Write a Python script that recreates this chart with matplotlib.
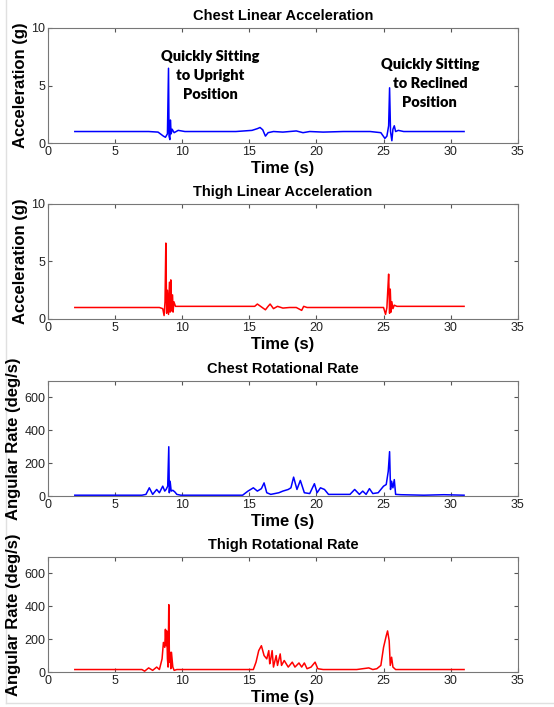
import matplotlib
matplotlib.use('Agg')
import matplotlib.pyplot as plt
from matplotlib.lines import Line2D

plt.rcParams['font.family'] = ['Liberation Sans', 'DejaVu Sans']

# chest linear acceleration (g)
chest_acc_t = [2.0, 4.0, 6.0, 7.5, 8.2, 8.6, 8.75, 8.9, 8.98, 9.02, 9.08, 9.12, 9.18, 9.25,
               9.4, 9.7, 10.2, 12.0, 14.0, 15.2, 15.6, 15.8, 16.0, 16.2, 16.4, 16.8,
               17.5, 18.5, 19.0, 19.5, 20.5, 22.0, 24.0, 24.8, 25.1, 25.25, 25.38, 25.45,
               25.52, 25.62, 25.7, 25.8, 25.9, 26.1, 26.5, 28.0, 30.0, 31.0]
chest_acc = [1.0, 1.0, 1.0, 1.0, 0.95, 0.6, 0.5, 0.8, 6.5, 0.6, 0.3, 2.0, 0.8, 1.2,
             0.9, 1.1, 1.0, 1.0, 1.0, 1.1, 1.25, 1.35, 1.15, 0.6, 0.9, 1.0,
             0.95, 1.05, 0.9, 1.0, 0.95, 1.0, 1.0, 0.9, 0.4, 0.6, 1.5, 4.8,
             1.0, 0.2, 1.2, 1.5, 1.0, 1.1, 1.0, 1.0, 1.0, 1.0]

# thigh linear acceleration (g)
thigh_acc_t = [2.0, 5.0, 8.3, 8.55, 8.65, 8.72, 8.78, 8.84, 8.9, 8.98, 9.05, 9.1, 9.15,
               9.2, 9.28, 9.32, 9.38, 9.5, 12.0, 15.4, 15.6, 15.9, 16.2, 16.4, 16.55,
               16.8, 17.1, 17.5, 18.0, 18.5, 18.9, 19.05, 19.3, 20.0, 23.0, 25.0, 25.15,
               25.25, 25.32, 25.38, 25.45, 25.5, 25.56, 25.62, 25.7, 25.8, 26.0, 28.0, 31.0]
thigh_acc = [1.0, 1.0, 1.0, 0.9, 0.3, 1.5, 6.6, 0.5, 2.5, 0.4, 3.2, 0.6, 3.4,
             0.7, 2.1, 0.6, 1.5, 1.1, 1.1, 1.1, 1.3, 1.05, 0.8, 1.1, 1.3,
             0.9, 1.1, 0.95, 1.0, 1.0, 0.75, 1.1, 1.0, 1.0, 1.0, 1.0, 0.4,
             1.0, 2.6, 3.9, 0.5, 2.6, 0.6, 1.5, 0.9, 1.2, 1.1, 1.1, 1.1]

# chest rotational rate (deg/s)
chest_rot_t = [2.0, 5.0, 7.0, 7.3, 7.55, 7.8, 8.1, 8.3, 8.55, 8.7, 8.8, 8.92, 9.0, 9.04,
               9.1, 9.18, 9.3, 9.45, 9.6, 9.9, 12.0, 14.5, 14.9, 15.3, 15.6, 15.9, 16.1,
               16.3, 16.6, 16.9, 17.2, 17.5, 17.9, 18.1, 18.3, 18.55, 18.8, 19.1, 19.5,
               19.85, 20.05, 20.3, 20.6, 20.9, 22.0, 22.5, 22.85, 23.2, 23.45, 23.7,
               23.95, 24.2, 24.6, 25.0, 25.2, 25.35, 25.45, 25.52, 25.6, 25.7, 25.8,
               25.9, 26.3, 28.0, 29.5, 31.0]
chest_rot = [5, 5, 5, 10, 50, 10, 40, 20, 60, 30, 40, 60, 300, 20,
             90, 30, 35, 25, 10, 5, 5, 5, 30, 50, 30, 45, 80,
             20, 10, 15, 20, 30, 40, 50, 115, 40, 95, 20, 15,
             75, 20, 50, 40, 10, 10, 10, 40, 10, 30, 10,
             45, 15, 20, 60, 70, 150, 270, 40, 90, 50, 100,
             10, 8, 5, 8, 5]

# thigh rotational rate (deg/s)
thigh_rot_t = [2.0, 5.0, 7.0, 7.2, 7.5, 7.8, 8.1, 8.3, 8.5, 8.6, 8.7, 8.75, 8.8, 8.85,
               8.9, 8.95, 9.0, 9.05, 9.1, 9.15, 9.2, 9.3, 9.4, 9.6, 12.0, 15.3, 15.5,
               15.7, 15.9, 16.1, 16.3, 16.45, 16.52, 16.6, 16.7, 16.8, 17.0, 17.1, 17.3,
               17.4, 17.6, 17.9, 18.2, 18.4, 18.7, 18.9, 19.1, 19.3, 19.6, 19.9, 20.1,
               20.5, 21.0, 23.0, 23.9, 24.2, 24.5, 24.8, 25.0, 25.2, 25.3, 25.42, 25.5,
               25.6, 25.7, 25.9, 27.0, 29.0, 31.0]
thigh_rot = [15, 15, 15, 5, 25, 10, 30, 15, 80, 180, 150, 260, 160, 250,
             80, 30, 410, 60, 120, 20, 120, 30, 10, 15, 15, 15, 60,
             130, 160, 100, 80, 130, 50, 80, 130, 30, 100, 40, 110,
             40, 70, 30, 60, 30, 55, 30, 55, 20, 30, 60, 20,
             15, 15, 15, 25, 15, 20, 40, 150, 220, 250, 190, 40,
             90, 30, 15, 15, 15, 15]

panels = [
    (chest_acc_t, chest_acc, 'blue', 'Chest Linear Acceleration', 'Acceleration (g)', (0, 10), [0, 5, 10]),
    (thigh_acc_t, thigh_acc, 'red', 'Thigh Linear Acceleration', 'Acceleration (g)', (0, 10), [0, 5, 10]),
    (chest_rot_t, chest_rot, 'blue', 'Chest Rotational Rate', 'Angular Rate (deg/s)', (0, 700), [0, 200, 400, 600]),
    (thigh_rot_t, thigh_rot, 'red', 'Thigh Rotational Rate', 'Angular Rate (deg/s)', (0, 700), [0, 200, 400, 600]),
]

fig = plt.figure(figsize=(5.54, 7.07), dpi=100)

# thin frame edge seen on the left and bottom of the original image (behind everything)
fig.add_artist(Line2D([6 / 554, 6 / 554], [4 / 707, 1], transform=fig.transFigure,
                      color='#e0e0e0', lw=1, zorder=-5))
fig.add_artist(Line2D([6 / 554, 1], [4 / 707, 4 / 707], transform=fig.transFigure,
                      color='#e0e0e0', lw=1, zorder=-5))

bottoms = [0.7977, 0.5488, 0.2984, 0.0495]
axes = []
for (t, v, c, title, ylab, ylim, yt), b in zip(panels, bottoms):
    ax = fig.add_axes([0.0866, b, 0.848, 0.1627])
    ax.patch.set_alpha(0)
    ax.plot(t, v, color=c, lw=1.1)
    ax.set_xlim(0, 35)
    ax.set_ylim(*ylim)
    ax.set_xticks([0, 5, 10, 15, 20, 25, 30, 35])
    ax.set_yticks(yt)
    ax.tick_params(direction='in', top=True, right=True, labelsize=9, colors='#555555',
                   labelcolor='#222222', length=3, pad=2)
    for s in ax.spines.values():
        s.set_color('#777777')
    ax.set_title(title, fontsize=10.5, fontweight='bold', pad=6)
    ax.set_xlabel('Time (s)', fontsize=12, fontweight='bold', labelpad=2)
    ax.set_ylabel(ylab, fontsize=12, fontweight='bold', labelpad=2)
    axes.append(ax)

axes[0].text(12.1, 5.85, 'Quickly Sitting\nto Upright\nPosition', ha='center', va='center',
             fontsize=10.5, fontweight='heavy', family=['Lato', 'DejaVu Sans'], linespacing=1.55)
axes[0].text(28.45, 5.2, 'Quickly Sitting\nto Reclined\nPosition', ha='center', va='center',
             fontsize=10.5, fontweight='heavy', family=['Lato', 'DejaVu Sans'], linespacing=1.55)

fig.savefig('out.png', dpi=100)
